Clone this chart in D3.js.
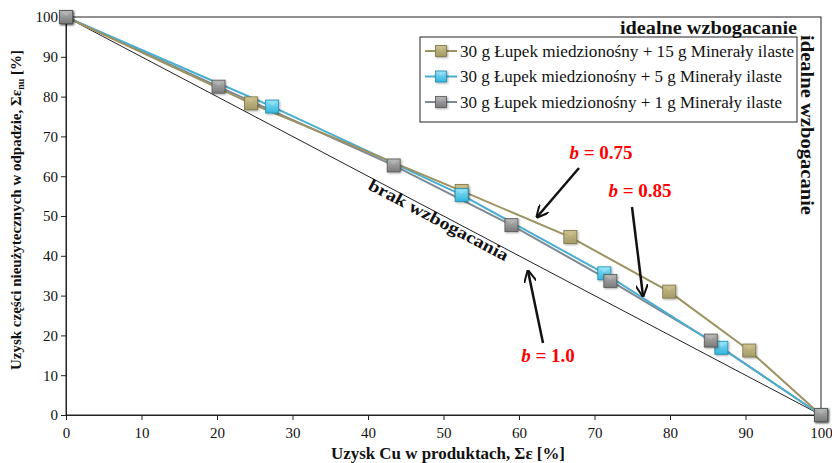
<!DOCTYPE html>
<html><head><meta charset="utf-8">
<script src="https://cdn.jsdelivr.net/npm/d3@7"></script>
<style>body{margin:0;background:#fff}</style>
</head><body>
<svg id="c" width="832" height="463"></svg>
<script>
const seriesNames = ["30 g Łupek miedzionośny + 15 g Minerały ilaste","30 g Łupek miedzionośny + 5 g Minerały ilaste","30 g Łupek miedzionośny + 1 g Minerały ilaste"];
const olive = [[0,100],[24.5,78.3],[52.4,56.3],[66.8,44.7],[79.9,31.0],[90.5,16.2],[100,0]];
const cyan  = [[0,100],[27.3,77.5],[52.4,55.3],[71.3,35.6],[86.8,16.9],[100,0]];
const gray  = [[0,100],[20.2,82.5],[43.4,62.7],[59.0,47.7],[72.1,33.7],[85.4,18.7],[100,0]];
const xTicks = [0,10,20,30,40,50,60,70,80,90,100];
const yTicks = [0,10,20,30,40,50,60,70,80,90,100];
const noEnrich = [[0,100],[100,0]];

const FONT = "Liberation Serif";
const svg = d3.select("#c").attr("font-family",FONT);
const x = d3.scaleLinear().domain([0,100]).range([66,821]);
const y = d3.scaleLinear().domain([0,100]).range([415,17]);

const defs = svg.append("defs");
const colors = [
  {line:"#9d9261", fill:"#a39a66", light:"#c9bf8c", dark:"#7d7345"},
  {line:"#4aaed0", fill:"#33b5dc", light:"#8fe0f6", dark:"#1d8cb0"},
  {line:"#7d8a96", fill:"#7a7a7a", light:"#b4b4b4", dark:"#555"}
];
colors.forEach((c,i)=>{
  const g = defs.append("linearGradient").attr("id","g"+i).attr("x1",0).attr("y1",0).attr("x2",0).attr("y2",1);
  g.append("stop").attr("offset","0%").attr("stop-color",c.light);
  g.append("stop").attr("offset","100%").attr("stop-color",c.fill);
});
const flt = defs.append("filter").attr("id","sh").attr("x","-50%").attr("y","-50%").attr("width","200%").attr("height","200%");
flt.append("feDropShadow").attr("dx",1).attr("dy",1).attr("stdDeviation",1).attr("flood-color","#000").attr("flood-opacity",0.35);

// frame
svg.append("rect").attr("x",66).attr("y",17).attr("width",755).attr("height",398).attr("fill","none").attr("stroke","#222").attr("stroke-width",1);

// axes
const xa = svg.append("g").attr("transform","translate(0,415)").call(d3.axisBottom(x).tickValues(xTicks).tickSize(5).tickSizeOuter(0));
const ya = svg.append("g").attr("transform","translate(66,0)").call(d3.axisLeft(y).tickValues(yTicks).tickSize(5).tickSizeOuter(0));
[xa,ya].forEach(a=>{a.attr("font-family",FONT);a.select(".domain").attr("stroke","#222");a.selectAll("line").attr("stroke","#222");a.selectAll("text").attr("font-size",15).attr("fill","#111");});
xa.selectAll("text").attr("dy","1.0em");

// diagonal
const line = d3.line().x(d=>x(d[0])).y(d=>y(d[1]));
svg.append("path").datum(noEnrich).attr("d",line).attr("fill","none").attr("stroke","#222").attr("stroke-width",1);

// series
const data = [olive,cyan,gray];
function marker(g,cx,cy,i,s){
  const c = colors[i];
  const m = g.append("g").attr("transform",`translate(${cx},${cy})`);
  m.append("rect").attr("x",-s/2).attr("y",-s/2).attr("width",s).attr("height",s).attr("fill",`url(#g${i})`).attr("stroke",c.dark).attr("stroke-width",0.8).attr("filter","url(#sh)");
  m.append("path").attr("d",`M${-s/2+1},${-s/2+1}L${s/2-1},${-s/2+1}L0,${-s/2+s*0.42}Z`).attr("fill",c.light).attr("opacity",0.9);
}
[2,1,0].forEach(i=>{
  svg.append("path").datum(data[i]).attr("d",line).attr("fill","none").attr("stroke",colors[i].line).attr("stroke-width",2);
});
[0,1,2].forEach(i=>{
  const g = svg.append("g");
  data[i].forEach(d=>marker(g,x(d[0]),y(d[1]),i,13));
});

// legend
const lg = svg.append("g");
lg.append("rect").attr("x",420).attr("y",37).attr("width",377).attr("height",85).attr("fill","#fff").attr("stroke","#222").attr("stroke-width",1);
const legLen = [334,322,322];
seriesNames.forEach((n,i)=>{
  const yy = 51 + i*25.5;
  lg.append("line").attr("x1",425).attr("x2",457).attr("y1",yy).attr("y2",yy).attr("stroke",colors[i].line).attr("stroke-width",2);
  marker(lg,441,yy,i,11);
  lg.append("text").attr("x",460).attr("y",yy+5.5).attr("font-size",16).attr("fill","#111")
    .attr("textLength",legLen[i]).attr("lengthAdjust","spacingAndGlyphs").text(n);
});

// idealne wzbogacanie
svg.append("text").attr("x",620).attr("y",34).attr("font-size",18).attr("font-weight","bold").attr("fill","#111")
  .attr("textLength",177).attr("lengthAdjust","spacingAndGlyphs").text("idealne wzbogacanie");
svg.append("text").attr("transform","translate(801,35) rotate(90)").attr("font-size",18).attr("font-weight","bold").attr("fill","#111")
  .attr("textLength",180).attr("lengthAdjust","spacingAndGlyphs").text("idealne wzbogacanie");

// brak wzbogacania
const ang = Math.atan2(y(0)-y(100), x(100)-x(0))*180/Math.PI;
svg.append("text").attr("transform",`translate(${x(49)},${y(51)+13}) rotate(${ang})`).attr("x",-78).attr("font-size",17).attr("font-weight","bold").attr("fill","#111")
  .attr("textLength",156).attr("lengthAdjust","spacingAndGlyphs").text("brak  wzbogacania");

// b annotations
const ann = [
  {t:"0.75", tx:601, ty:159, a:[579,168,537,217]},
  {t:"0.85", tx:640, ty:197, a:[632,207,643,296]},
  {t:"1.0",  tx:548, ty:362, a:[543,343,528,271]}
];
defs.append("marker").attr("id","ah").attr("viewBox","0 0 10 10").attr("refX",9).attr("refY",5).attr("markerWidth",5).attr("markerHeight",5).attr("orient","auto").attr("markerUnits","strokeWidth")
  .append("path").attr("d","M0,0L10,5L0,10").attr("fill","none").attr("stroke","#111").attr("stroke-width",1.6);
ann.forEach(d=>{
  svg.append("line").attr("x1",d.a[0]).attr("y1",d.a[1]).attr("x2",d.a[2]).attr("y2",d.a[3]).attr("stroke","#111").attr("stroke-width",2.5).attr("marker-end","url(#ah)");
  const t = svg.append("text").attr("x",d.tx).attr("y",d.ty).attr("text-anchor","middle").attr("font-size",19).attr("font-weight","bold").attr("fill","#ff0000");
  t.append("tspan").attr("font-style","italic").text("b");
  t.append("tspan").text(" = "+d.t);
});

// axis titles
svg.append("text").attr("x",331).attr("y",459).attr("font-size",16).attr("font-weight","bold").attr("fill","#111")
  .attr("textLength",234).attr("lengthAdjust","spacingAndGlyphs").text("Uzysk Cu w produktach,  Σε [%]");
const yt = svg.append("text").attr("transform","translate(21,210) rotate(-90)").attr("text-anchor","middle").attr("font-size",15).attr("font-weight","bold").attr("fill","#111");
yt.append("tspan").text("Uzysk części nieużytecznych w odpadzie,  Σε");
yt.append("tspan").attr("font-size",10).attr("dy",3).text("nu");
yt.append("tspan").attr("dy",-3).text(" [%]");

svg.selectAll("text").attr("font-family",FONT);
</script>
</body></html>
